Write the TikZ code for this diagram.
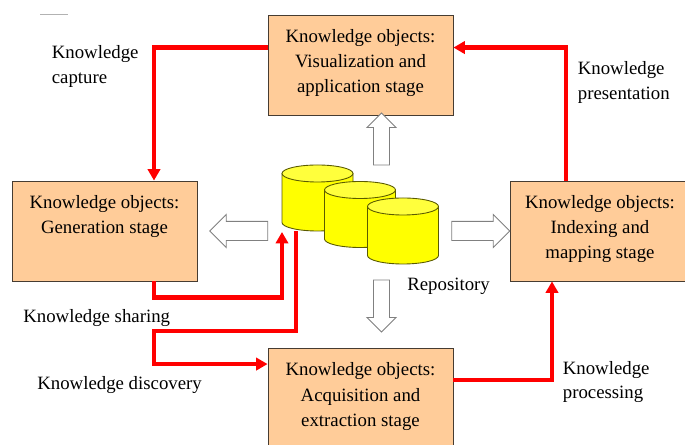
\documentclass[tikz,border=0pt]{standalone}
\usepackage{fontspec}
\setmainfont{Liberation Serif}
\usetikzlibrary{shapes, arrows.meta, positioning, calc}
\definecolor{stagefill}{RGB}{255, 204, 153}
\definecolor{stageline}{RGB}{70, 60, 50}
\definecolor{flowred}{RGB}{255, 0, 0}
\definecolor{repoyellow}{RGB}{255, 255, 0}
\definecolor{repotop}{RGB}{255, 255, 60}
\definecolor{repoline}{RGB}{90, 90, 0}
\newcommand{\stagetext}[1]{\parbox[t][1.96cm][t]{3.1cm}{\centering\vspace*{0.26cm}#1}}
\tikzset{
  stagebox/.style={draw=stageline, fill=stagefill, inner sep=0pt, line width=0.5pt, minimum width=3.7cm, minimum height=2cm, font=\fontsize{10.7}{14.5}\selectfont},
  repobody/.style={draw=repoline, fill=repoyellow, line width=0.5pt},
  repocap/.style={draw=repoline, fill=repotop, line width=0.5pt},
  hollowarrow/.style={single arrow, draw=gray, fill=white, line width=0.5pt, inner xsep=0pt, inner ysep=0.17cm, single arrow head extend=0.13cm, single arrow tip angle=90},
  redflow/.style={draw=flowred, line width=2.4pt, -{Triangle[length=6.5pt, width=7pt]}},
  flowlabel/.style={align=left, anchor=west, inner sep=0pt, font=\fontsize{10.7}{14.2}\selectfont}
}
\begin{document}
\begin{tikzpicture}
  \useasboundingbox (0, 0) rectangle (13.7, 8.9);

  % Stage boxes
  \node[stagebox] (visbox) at (7.21, 7.6) {\stagetext{Knowledge objects:\\Visualization and\\application stage}};
  \node[stagebox] (genbox) at (2.09, 4.28) {\stagetext{Knowledge objects:\\Generation stage}};
  \node[stagebox, minimum width=3.6cm] (mapbox) at (12, 4.28) {\stagetext{Knowledge objects:\\Indexing and\\mapping stage}};
  \node[stagebox] (acqbox) at (7.21, 0.93) {\stagetext{Knowledge objects:\\Acquisition and\\extraction stage}};

  % Repository
  \foreach \x/\y in {6.35/4.94, 7.2/4.61, 8.06/4.28} {
    \draw[repobody] (\x-0.71, \y+0.49) -- (\x-0.71, \y-0.49) arc[start angle=180, end angle=360, x radius=0.71, y radius=0.17] -- (\x+0.71, \y+0.49) -- cycle;
    \draw[repocap] (\x, \y+0.49) ellipse[x radius=0.71, y radius=0.17];
  }
  \node[flowlabel] (repolabel) at (8.14, 3.17) {Repository};

  % Hollow arrows
  \node[hollowarrow, minimum width=0.66cm, minimum height=1.16cm, rotate=180] (leftarrow) at (4.87, 4.28) {};
  \node[hollowarrow, minimum width=0.66cm, minimum height=1.16cm] (rightarrow) at (9.52, 4.28) {};
  \node[hollowarrow, inner ysep=0.15cm, minimum width=0.58cm, minimum height=1.04cm, rotate=90] (uparrow) at (7.63, 6.04) {};
  \node[hollowarrow, inner ysep=0.15cm, minimum width=0.58cm, minimum height=1.04cm, rotate=270] (downarrow) at (7.63, 2.86) {};

  % Red flows
  \coordinate (shareend) at (5.64, 4.26);
  \coordinate (discstart) at (5.92, 4.28);
  \coordinate (discbend) at (3.08, 2.28);
  \draw[redflow] ([yshift=-0.66cm]visbox.north west) -| ([xshift=0.99cm]genbox.north);
  \draw[redflow] ([xshift=-0.68cm]mapbox.north) |- ([yshift=-0.66cm]visbox.north east);
  \draw[redflow] ([yshift=-0.64cm]acqbox.north east) -| ([xshift=-0.96cm]mapbox.south);
  \draw[redflow] ([xshift=0.99cm]genbox.south) |- (5.64, 2.95) -- (shareend);
  \draw[redflow] (discstart) |- (discbend) |- ([yshift=-0.32cm]acqbox.north west);

  % Labels
  \node[flowlabel] (capturelabel) at (1.03, 7.57) {Knowledge\\capture};
  \node[flowlabel] (presentlabel) at (11.55, 7.25) {Knowledge\\presentation};
  \node[flowlabel] (sharelabel) at (0.46, 2.54) {Knowledge sharing};
  \node[flowlabel] (discolabel) at (0.74, 1.19) {Knowledge discovery};
  \node[flowlabel] (processlabel) at (11.25, 1.26) {Knowledge\\processing};

  % Stray rule
  \draw[gray!60, line width=0.4pt] (0.8, 8.62) -- (1.36, 8.62);
\end{tikzpicture}
\end{document}
